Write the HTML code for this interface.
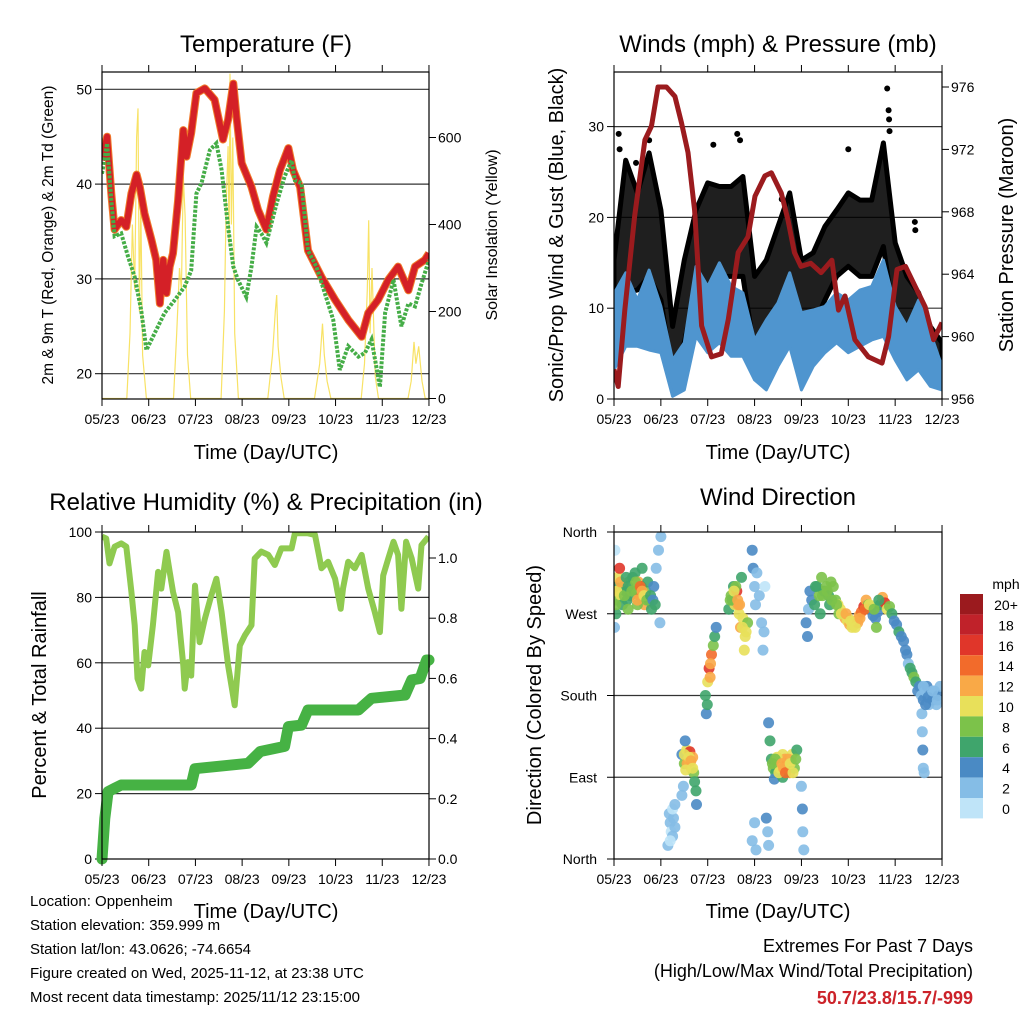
<!DOCTYPE html>
<html><head><meta charset="utf-8"><style>
body{margin:0;background:#fff;}
svg{display:block;font-family:"Liberation Sans",sans-serif;}
</style></head><body>
<svg id="s" width="1024" height="1024" viewBox="0 0 1024 1024">
<defs>
<clipPath id="c1"><rect x="102" y="72" width="327" height="327"/></clipPath>
<clipPath id="c2"><rect x="614" y="72" width="328" height="327"/></clipPath>
<clipPath id="c3"><rect x="102" y="532" width="327" height="327"/></clipPath>
<clipPath id="c4"><rect x="614" y="532" width="328" height="327"/></clipPath>
</defs>
<g id="g1"></g>
<g id="g2"></g>
<g id="g3"></g>
<g id="g4"></g>
<g font-size="15" fill="#000">
<text x="30" y="906">Location: Oppenheim</text>
<text x="30" y="930">Station elevation: 359.999 m</text>
<text x="30" y="954">Station lat/lon: 43.0626; -74.6654</text>
<text x="30" y="978">Figure created on Wed, 2025-11-12, at 23:38 UTC</text>
<text x="30" y="1002">Most recent data timestamp: 2025/11/12 23:15:00</text>
</g>
<g text-anchor="end">
<text x="973" y="952" font-size="18">Extremes For Past 7 Days</text>
<text x="973" y="977" font-size="18">(High/Low/Max Wind/Total Precipitation)</text>
<text x="973" y="1004" font-size="18" font-weight="bold" fill="#cc2229">50.7/23.8/15.7/-999</text>
</g>
</svg>
<script>
const dateLabels=["05/23","06/23","07/23","08/23","09/23","10/23","11/23","12/23"];
// Temperature
const tempT=[0,0.11,0.2,0.27,0.41,0.52,0.63,0.74,0.81,0.91,1.06,1.16,1.24,1.31,1.38,1.45,1.52,1.63,1.74,1.81,1.91,2.02,2.2,2.41,2.59,2.7,2.81,2.88,2.99,3.2,3.34,3.52,3.66,3.81,3.99,4.09,4.24,4.41,4.7,4.99,5.27,5.56,5.7,5.91,6.13,6.34,6.56,6.7,6.91,7];
const tempRed=[42.5,45,39,35.2,36.2,35.5,39,41,39.7,36.9,34.1,32,27.4,32,28.5,31.3,32.7,38.3,45.7,42.9,45.4,49.6,50.1,48.9,44.7,46.8,50.6,47.1,42.2,39.7,37.3,35.2,38.7,41.5,43.8,41.5,39.7,33,30.2,27.8,25.7,23.9,26.4,27.8,29.9,31.3,28.8,31.3,32,32.7];
const dewT=[0,0.11,0.2,0.27,0.41,0.56,0.7,0.84,0.95,1.13,1.34,1.56,1.77,1.91,2.02,2.13,2.31,2.45,2.56,2.7,2.81,2.91,3.09,3.2,3.31,3.41,3.52,3.74,3.91,4.06,4.13,4.27,4.41,4.59,4.77,4.95,5.09,5.27,5.49,5.63,5.77,5.95,6.06,6.24,6.41,6.56,6.7,6.84,7];
const dewVal=[41.1,44.3,38.3,34.5,34.8,32.3,30.2,26.7,22.5,24.3,26.4,27.8,29.2,30.9,39,40.1,43.6,44.3,41.5,35.5,31.3,29.9,28.1,31.3,35.5,34.8,33.8,38,40.8,42.5,40.4,40.1,33,31.3,28.5,25.7,20.4,22.9,21.8,22.2,23.6,18.6,26.4,29.9,25,27.4,27.1,29.5,32];
const solarT=[0,0.53,0.6,0.65,0.7,0.74,0.77,0.8,0.83,0.87,0.95,1.53,1.6,1.66,1.7,1.74,1.78,1.83,1.9,2.55,2.62,2.66,2.7,2.72,2.74,2.77,2.8,2.84,2.92,3.55,3.65,3.71,3.74,3.77,3.83,3.9,4.55,4.66,4.72,4.76,4.82,4.9,5.55,5.62,5.68,5.71,5.74,5.78,5.85,5.92,6.55,6.62,6.68,6.72,6.78,6.85,6.92,7];
const solarVal=[0,0,150,400,250,600,667,200,450,100,0,0,150,300,250,510,420,100,0,0,200,450,580,350,747,400,600,150,0,0,100,200,238,120,50,0,0,80,172,100,40,0,0,80,250,410,150,300,50,0,0,40,130,80,120,40,0,0];
// Winds
const presT=[0,0.09,0.23,0.44,0.66,0.8,0.94,1.12,1.3,1.44,1.58,1.72,1.87,2.08,2.29,2.44,2.65,2.86,3.01,3.22,3.36,3.57,3.71,3.85,3.99,4.2,4.42,4.65,4.79,4.93,5.14,5.43,5.72,5.86,6.04,6.22,6.43,6.64,6.82,7];
const presVal=[957.9,956.8,961.7,967.7,972.6,973.5,976,976,975.4,973.7,971.8,968.1,960.7,958.7,958.9,961.1,965.4,966.4,969,970.3,970.5,969.2,967.5,965.4,964.5,964.7,964.1,964.9,961.7,962.6,959.8,958.7,958.3,960,964.3,964.5,963.2,961.9,959.8,960.9];
const windT=[0,0.25,0.5,0.75,1,1.25,1.5,1.75,2,2.25,2.5,2.75,3,3.25,3.5,3.75,4,4.25,4.5,4.75,5,5.25,5.5,5.75,6,6.25,6.5,6.75,7];
const sonicHigh=[11.6,13.9,10.9,14.2,10.2,4.3,6.2,14.6,12.4,15,12.4,11.7,6.5,8.7,10.6,13.9,9.5,9.8,10.2,11.7,10.9,12,12.4,15.3,10.2,8,10.9,7.3,3.6];
const sonicLow=[3.2,5.8,5.8,5.4,5.1,0.3,1,6.9,5.1,6.2,4.7,4.7,2.1,1,3.6,5.8,1,3.6,5.1,6.2,5.1,5.8,6.5,6.9,4.3,2.1,3.2,1.4,1];
const gustHigh=[15.3,26.3,22.7,27.1,20.8,8,15.3,20.8,23.8,23.4,23.4,24.5,13.5,15.3,19,22.7,15.3,16.1,19,20.8,22.7,21.9,21.9,28.2,17.2,13.5,11.7,8,6.2];
const gustLow=[4.3,11.7,12,13.5,10.9,2.5,6.2,12.4,11.7,13.5,13.5,13.5,5.1,5.1,9.8,11.7,6.2,8,10.9,13.5,14.6,13.5,13.5,16.8,8,6.2,5.1,3.6,2.5];
const gustDotT=[0.1,0.12,0.47,0.75,2.12,2.63,2.69,3.58,5.0,5.83,5.86,5.87,5.88,6.42,6.43];
const gustDotV=[29.2,27.5,26,28.5,28,29.2,28.5,22,27.5,34.2,31.8,30.8,29.5,19.5,18.6];
// Humidity & precipitation
const rhT=[0,0.09,0.16,0.27,0.41,0.52,0.63,0.7,0.76,0.84,0.91,0.99,1.09,1.2,1.27,1.38,1.45,1.52,1.63,1.74,1.77,1.84,1.91,1.99,2.09,2.2,2.34,2.45,2.56,2.7,2.84,2.95,3.06,3.2,3.27,3.41,3.56,3.7,3.84,4.06,4.13,4.41,4.56,4.7,4.84,4.99,5.11,5.16,5.27,5.41,5.56,5.7,5.84,5.95,6.02,6.13,6.24,6.34,6.41,6.51,6.63,6.77,6.84,6.99];
const rhVal=[98.6,98,90.4,95.5,96.5,95.5,81.7,71.5,55.2,52.1,63.3,59.2,71.5,87.8,82.7,93.9,87.8,81.7,75.5,59.2,52.1,60.2,56.1,83.6,66.3,73.4,80.6,85.7,75.5,59.2,47,65.3,68.4,71.5,91.9,94,93,89.9,95,95,99.6,99.6,99.1,88.9,90.9,85.7,76.5,82.7,90.9,88.9,93,82.7,75.5,69.4,86.7,91.9,97,93,76.5,97,91.9,82.7,96,98.6];
const prT=[0,0.06,0.13,0.27,0.41,1.91,1.99,3.13,3.39,3.91,3.99,4.27,4.41,5.49,5.77,6.49,6.63,6.81,6.95,7];
const prVal=[0,0.135,0.224,0.235,0.246,0.246,0.30,0.318,0.357,0.374,0.44,0.445,0.495,0.495,0.534,0.545,0.595,0.6,0.661,0.661];
// Wind direction (time, degrees, speed)
const dirT=[0.02,0.05,0.08,0.1,0.12,0.15,0.18,0.2,0.25,0.28,0.32,0.35,0.4,0.42,0.45,0.48,0.52,0.55,0.58,0.62,0.65,0.68,0.72,0.75,0.8,0.85,0.9,0.95,1.0,0.98,0.02,0.01,0.04,0.3,0.5,0.6,
1.18,1.2,1.22,1.25,1.27,1.15,1.3,1.25,1.3,1.2,
1.45,1.5,1.55,1.58,1.62,1.65,1.7,1.72,1.75,1.76,1.48,1.45,1.52,1.6,1.68,
1.95,1.97,2.0,2.03,2.05,2.08,2.12,2.15,2.18,1.99,2.06,
2.45,2.5,2.55,2.58,2.62,2.67,2.7,2.75,2.8,2.85,2.72,2.78,2.52,2.6,2.65,
2.95,2.97,3.0,3.02,3.05,3.1,3.15,3.18,3.2,3.22,2.95,3.0,3.03,3.25,3.28,3.3,
3.3,3.33,3.36,3.4,3.45,3.5,3.55,3.6,3.65,3.7,3.75,3.8,3.85,3.9,3.42,3.6,3.48,3.68,3.78,
4.0,4.02,4.03,4.05,
4.1,4.13,4.15,4.18,4.22,4.28,4.33,4.38,4.43,4.48,4.53,4.58,4.63,4.68,4.73,4.78,4.83,4.88,4.93,4.98,5.03,5.08,5.13,5.18,5.23,5.28,5.33,5.38,5.43,5.48,5.53,5.58,5.63,5.68,5.73,5.78,5.83,5.88,5.93,5.98,6.03,6.08,6.13,6.18,4.4,4.6,4.8,5.0,5.2,5.6,
6.22,6.25,6.28,6.32,6.36,6.4,6.44,6.48,6.52,6.56,6.6,6.64,6.68,6.72,6.76,6.8,6.84,6.88,6.92,6.96,6.57,6.58,6.59,6.6,6.62,
0.06,0.14,0.22,0.3,0.38,0.46,0.5,0.56,0.6,0.64,0.7,0.78,0.83,0.88,0.04,0.26,
1.5,1.56,1.6,1.64,1.68,1.53,
2.48,2.56,2.64,2.68,2.74,2.82,
3.38,3.44,3.52,3.58,3.62,3.66,3.72,3.76,3.82,3.88,
4.3,4.45,4.55,4.65,4.75,4.85,4.95,5.05,5.15,5.25,5.35,5.45,5.55,5.65,
6.6,6.7,6.8,6.9,6.65];
const dirDeg=[300,285,310,295,320,290,280,300,295,285,305,290,310,300,315,295,305,290,300,285,280,295,305,285,275,300,320,340,355,260,340,255,270,275,280,320,
50,40,30,25,45,15,35,55,60,20,
115,105,120,110,118,100,95,85,75,60,80,70,130,105,112,
180,160,195,210,200,225,235,245,255,170,215,
275,290,300,280,295,270,255,265,245,260,310,230,285,300,280,
340,320,300,280,315,290,260,230,250,300,20,40,10,45,30,15,
150,130,110,100,95,105,100,115,110,105,95,115,100,120,88,90,112,98,108,
80,55,30,10,
260,245,275,295,285,280,300,290,310,295,300,290,305,300,285,280,275,270,265,262,258,255,258,262,268,272,278,285,280,275,268,265,272,280,288,282,275,278,270,262,258,250,245,240,270,280,270,265,260,255,
230,225,215,210,205,200,195,185,190,180,175,185,190,170,180,175,185,170,180,190,160,140,120,100,95,
295,305,290,300,295,305,285,300,295,290,285,290,285,280,280,310,
115,105,112,108,100,98,
285,295,285,280,255,250,
105,110,95,105,100,95,110,105,95,110,
300,290,295,285,280,270,270,262,255,265,275,280,275,285,
190,178,185,175,170];
const dirSpd=[6,8,10,12,16,10,7,8,6,7,9,6,7,10,7,8,12,14,16,12,12,8,6,7,6,5,3,2,2,3,1,3,6,8,8,6,
2,2,1,2,2,2,3,1,2,0,
4,8,10,12,16,10,9,6,6,4,2,2,4,10,12,
6,4,10,16,12,14,8,7,4,6,12,
6,8,6,10,16,10,12,10,10,8,6,10,7,8,12,
4,4,3,2,2,2,2,2,3,1,2,2,2,4,2,2,
4,6,6,8,6,8,10,10,12,14,12,10,8,6,5,6,10,8,10,
3,4,2,2,
4,4,2,4,5,6,7,8,8,7,8,6,8,9,8,10,10,12,12,10,12,10,10,12,12,14,16,12,8,6,5,4,5,6,12,16,10,8,6,4,4,6,4,4,6,7,8,10,12,8,
4,4,3,6,6,8,6,4,4,3,4,3,4,3,2,4,3,2,4,3,2,3,4,2,2,
10,12,8,7,8,9,12,14,12,10,8,7,5,6,8,6,
10,12,10,12,10,10,
8,10,12,12,10,10,
8,8,10,12,12,14,12,10,10,8,
6,8,8,8,8,10,12,10,10,12,14,10,8,6,
3,4,3,3,4];
const spdColors=["#bfe4f8","#85bde6","#4a8ac4","#3fa56c","#7cc24a","#e8e05a","#f9a947","#f26b2b","#e0362a","#c0222a","#9b1a1e"];
const spdLabels=["0","2","4","6","8","10","12","14","16","18","20+"];
const dirLabels=["North","East","South","West","North"];

const NS="http://www.w3.org/2000/svg";
function mk(parent,tag,attrs,name,txt){const e=document.createElementNS(NS,tag);for(const k in attrs)e.setAttribute(k,attrs[k]);


if(txt!==undefined)e.textContent=txt;parent.appendChild(e);return e;}
function pts(ts,vs,fx,fy){return ts.map((t,i)=>fx(t).toFixed(1)+","+fy(vs[i]).toFixed(1)).join(" ");}
function txt(p,x,y,s,size,anchor,name,rot){const a={x:x,y:y,'font-size':size,'text-anchor':anchor||'middle'};if(rot)a.transform=`rotate(-90 ${x} ${y})`;return mk(p,'text',a,name,s);}
function frame(p,L,T,R,B){mk(p,'rect',{x:L,y:T,width:R-L,height:B-T,fill:'none',stroke:'#000','stroke-width':1.2},'plot-frame');}
function xTicks(p,L,fx,T,B){dateLabels.forEach((d,i)=>{const x=fx(i);
mk(p,'line',{x1:x,y1:B,x2:x,y2:B+7,stroke:'#000'},'x-tick');
mk(p,'line',{x1:x,y1:T,x2:x,y2:T-7,stroke:'#000'},'x-tick-top');
txt(p,x,B+25,d,14,'middle','x-tick-label');});}
function grid(p,L,R,y){mk(p,'line',{x1:L,y1:y,x2:R,y2:y,stroke:'#333','stroke-width':1.2},'grid-line');}

// Panel 1
(function(){const g=document.getElementById('g1');const L=102,R=429,T=72,B=399;
const fx=t=>L+t*46.71, fy=v=>89.3+(50-v)*9.48, fs=v=>398.5-v*0.435;
txt(g,266,52,"Temperature (F)",24,'middle','chart-title');
[20,30,40,50].forEach(v=>{grid(g,L,R,fy(v));mk(g,'line',{x1:L-7,y1:fy(v),x2:L,y2:fy(v),stroke:'#000'},'y-tick');txt(g,L-10,fy(v)+5,String(v),14,'end','y-tick-label');});
[0,200,400,600].forEach(v=>{mk(g,'line',{x1:R,y1:fs(v),x2:R+7,y2:fs(v),stroke:'#000'},'y2-tick');txt(g,R+9,fs(v)+5,String(v),14,'start','y2-tick-label');});
const c=mk(g,'g',{'clip-path':'url(#c1)'},'plot-area');
mk(c,'polyline',{points:pts(solarT,solarVal,fx,fs),fill:'none',stroke:'#f7dd4a','stroke-width':1.2,'stroke-opacity':0.85},'solar-line');
mk(c,'polyline',{points:pts(tempT,tempRed,fx,fy),fill:'none',stroke:'#f07a2a','stroke-width':8,'stroke-linejoin':'round'},'temp-9m-line');
mk(c,'polyline',{points:pts(tempT,tempRed,fx,fy),fill:'none',stroke:'#d42027','stroke-width':6,'stroke-linejoin':'round'},'temp-2m-line');
mk(c,'polyline',{points:pts(dewT,dewVal,fx,fy),fill:'none',stroke:'#45ad47','stroke-width':4,'stroke-dasharray':'3 1.5'},'dewpoint-line');
frame(g,L,T,R,B);xTicks(g,L,fx,T,B);
txt(g,266,459,"Time (Day/UTC)",20,'middle','x-axis-title');
txt(g,53,235,"2m & 9m T (Red, Orange) & 2m Td (Green)",15.5,'middle','y-axis-title',true);
txt(g,497,235,"Solar Insolation (Yellow)",16,'middle','y2-axis-title',true);})();

// Panel 2
(function(){const g=document.getElementById('g2');const L=614,R=942,T=72,B=399;
const fx=t=>L+t*46.86, fy=v=>399-v*9.08, fp=p=>399-(p-956)*15.6;
txt(g,778,52,"Winds (mph) & Pressure (mb)",24,'middle','chart-title');
[0,10,20,30].forEach(v=>{if(v)grid(g,L,R,fy(v));mk(g,'line',{x1:L-7,y1:fy(v),x2:L,y2:fy(v),stroke:'#000'},'y-tick');txt(g,L-10,fy(v)+5,String(v),14,'end','y-tick-label');});
[956,960,964,968,972,976].forEach(v=>{mk(g,'line',{x1:R,y1:fp(v),x2:R+7,y2:fp(v),stroke:'#000'},'y2-tick');txt(g,R+9,fp(v)+5,String(v),14,'start','y2-tick-label');});
const c=mk(g,'g',{'clip-path':'url(#c2)'},'plot-area');
const band=(hi,lo)=>windT.map((t,i)=>fx(t).toFixed(1)+","+fy(hi[i]).toFixed(1)).concat(windT.map((t,i)=>fx(t).toFixed(1)+","+fy(lo[i]).toFixed(1)).reverse()).join(" ");
mk(c,'polygon',{points:band(gustHigh,gustLow),fill:'#000','fill-opacity':0.88,stroke:'#000','stroke-width':5,'stroke-linejoin':'round'},'gust-scatter');
gustDotT.forEach((t,i)=>{mk(c,'circle',{cx:fx(t),cy:fy(gustDotV[i]),r:3,fill:'#000'},'gust-point');});
mk(c,'polygon',{points:band(sonicHigh,sonicLow),fill:'#4f95cf',stroke:'#4f95cf','stroke-width':3,'stroke-linejoin':'round'},'sonic-wind-band');
mk(c,'polyline',{points:pts(presT,presVal,fx,fp),fill:'none',stroke:'#9b1b1e','stroke-width':5,'stroke-linejoin':'round'},'pressure-line');
frame(g,L,T,R,B);xTicks(g,L,fx,T,B);
txt(g,778,459,"Time (Day/UTC)",20,'middle','x-axis-title');
txt(g,563,235,"Sonic/Prop Wind & Gust (Blue, Black)",20,'middle','y-axis-title',true);
txt(g,1013,235,"Station Pressure (Maroon)",20,'middle','y2-axis-title',true);})();

// Panel 3
(function(){const g=document.getElementById('g3');const L=102,R=429,T=532,B=859;
const fx=t=>L+t*46.71, fy=v=>859-v*3.27, fr=v=>859-v*301;
txt(g,266,510,"Relative Humidity (%) & Precipitation (in)",24,'middle','chart-title');
[0,20,40,60,80,100].forEach(v=>{if(v&&v<100)grid(g,L,R,fy(v));mk(g,'line',{x1:L-7,y1:fy(v),x2:L,y2:fy(v),stroke:'#000'},'y-tick');txt(g,L-10,fy(v)+5,String(v),14,'end','y-tick-label');});
[0,0.2,0.4,0.6,0.8,1.0].forEach(v=>{mk(g,'line',{x1:R,y1:fr(v),x2:R+7,y2:fr(v),stroke:'#000'},'y2-tick');txt(g,R+9,fr(v)+5,v.toFixed(1),14,'start','y2-tick-label');});
const c=mk(g,'g',{'clip-path':'url(#c3)'},'plot-area');
mk(c,'polyline',{points:pts(rhT,rhVal,fx,fy),fill:'none',stroke:'#8fca50','stroke-width':6,'stroke-linejoin':'round'},'humidity-line');
mk(g,'polyline',{points:pts(prT,prVal,fx,fr),fill:'none',stroke:'#46b244','stroke-width':11,'stroke-linejoin':'round','stroke-linecap':'round'},'precip-line');
frame(g,L,T,R,B);xTicks(g,L,fx,T,B);
txt(g,266,918,"Time (Day/UTC)",20,'middle','x-axis-title');
txt(g,46,695,"Percent & Total Rainfall",20,'middle','y-axis-title',true);})();

// Panel 4
(function(){const g=document.getElementById('g4');const L=614,R=942,T=532,B=859;
const fx=t=>L+t*46.86, fy=d=>859-d*0.9083;
txt(g,778,505,"Wind Direction",24,'middle','chart-title');
dirLabels.forEach((s,i)=>{const y=fy(i*90);if(i>0&&i<4)grid(g,L,R,y);mk(g,'line',{x1:L-7,y1:y,x2:L,y2:y,stroke:'#000'},'y-tick');txt(g,L-17,y+5,s,14,'end','y-tick-label');});
const c=mk(g,'g',{'clip-path':'url(#c4)'},'plot-area');
dirT.forEach((t,i)=>{const b=Math.min(10,Math.floor(dirSpd[i]/2));
mk(c,'circle',{cx:fx(t).toFixed(1),cy:fy(dirDeg[i]).toFixed(1),r:5.5,fill:spdColors[b],'fill-opacity':0.9},'direction-point');});
frame(g,L,T,R,B);xTicks(g,L,fx,T,B);
txt(g,778,918,"Time (Day/UTC)",20,'middle','x-axis-title');
txt(g,541,695,"Direction (Colored By Speed)",20,'middle','y-axis-title',true);
txt(g,1006,589,"mph",14,'middle','colorbar-title');
spdLabels.forEach((s,i)=>{const k=10-i;const y=594+i*20.4;
mk(g,'rect',{x:960,y:y,width:23,height:20.4,fill:spdColors[k]},'colorbar-box');
txt(g,1006,y+16,spdLabels[k],14,'middle','colorbar-label');});})();
</script>
</body></html>
